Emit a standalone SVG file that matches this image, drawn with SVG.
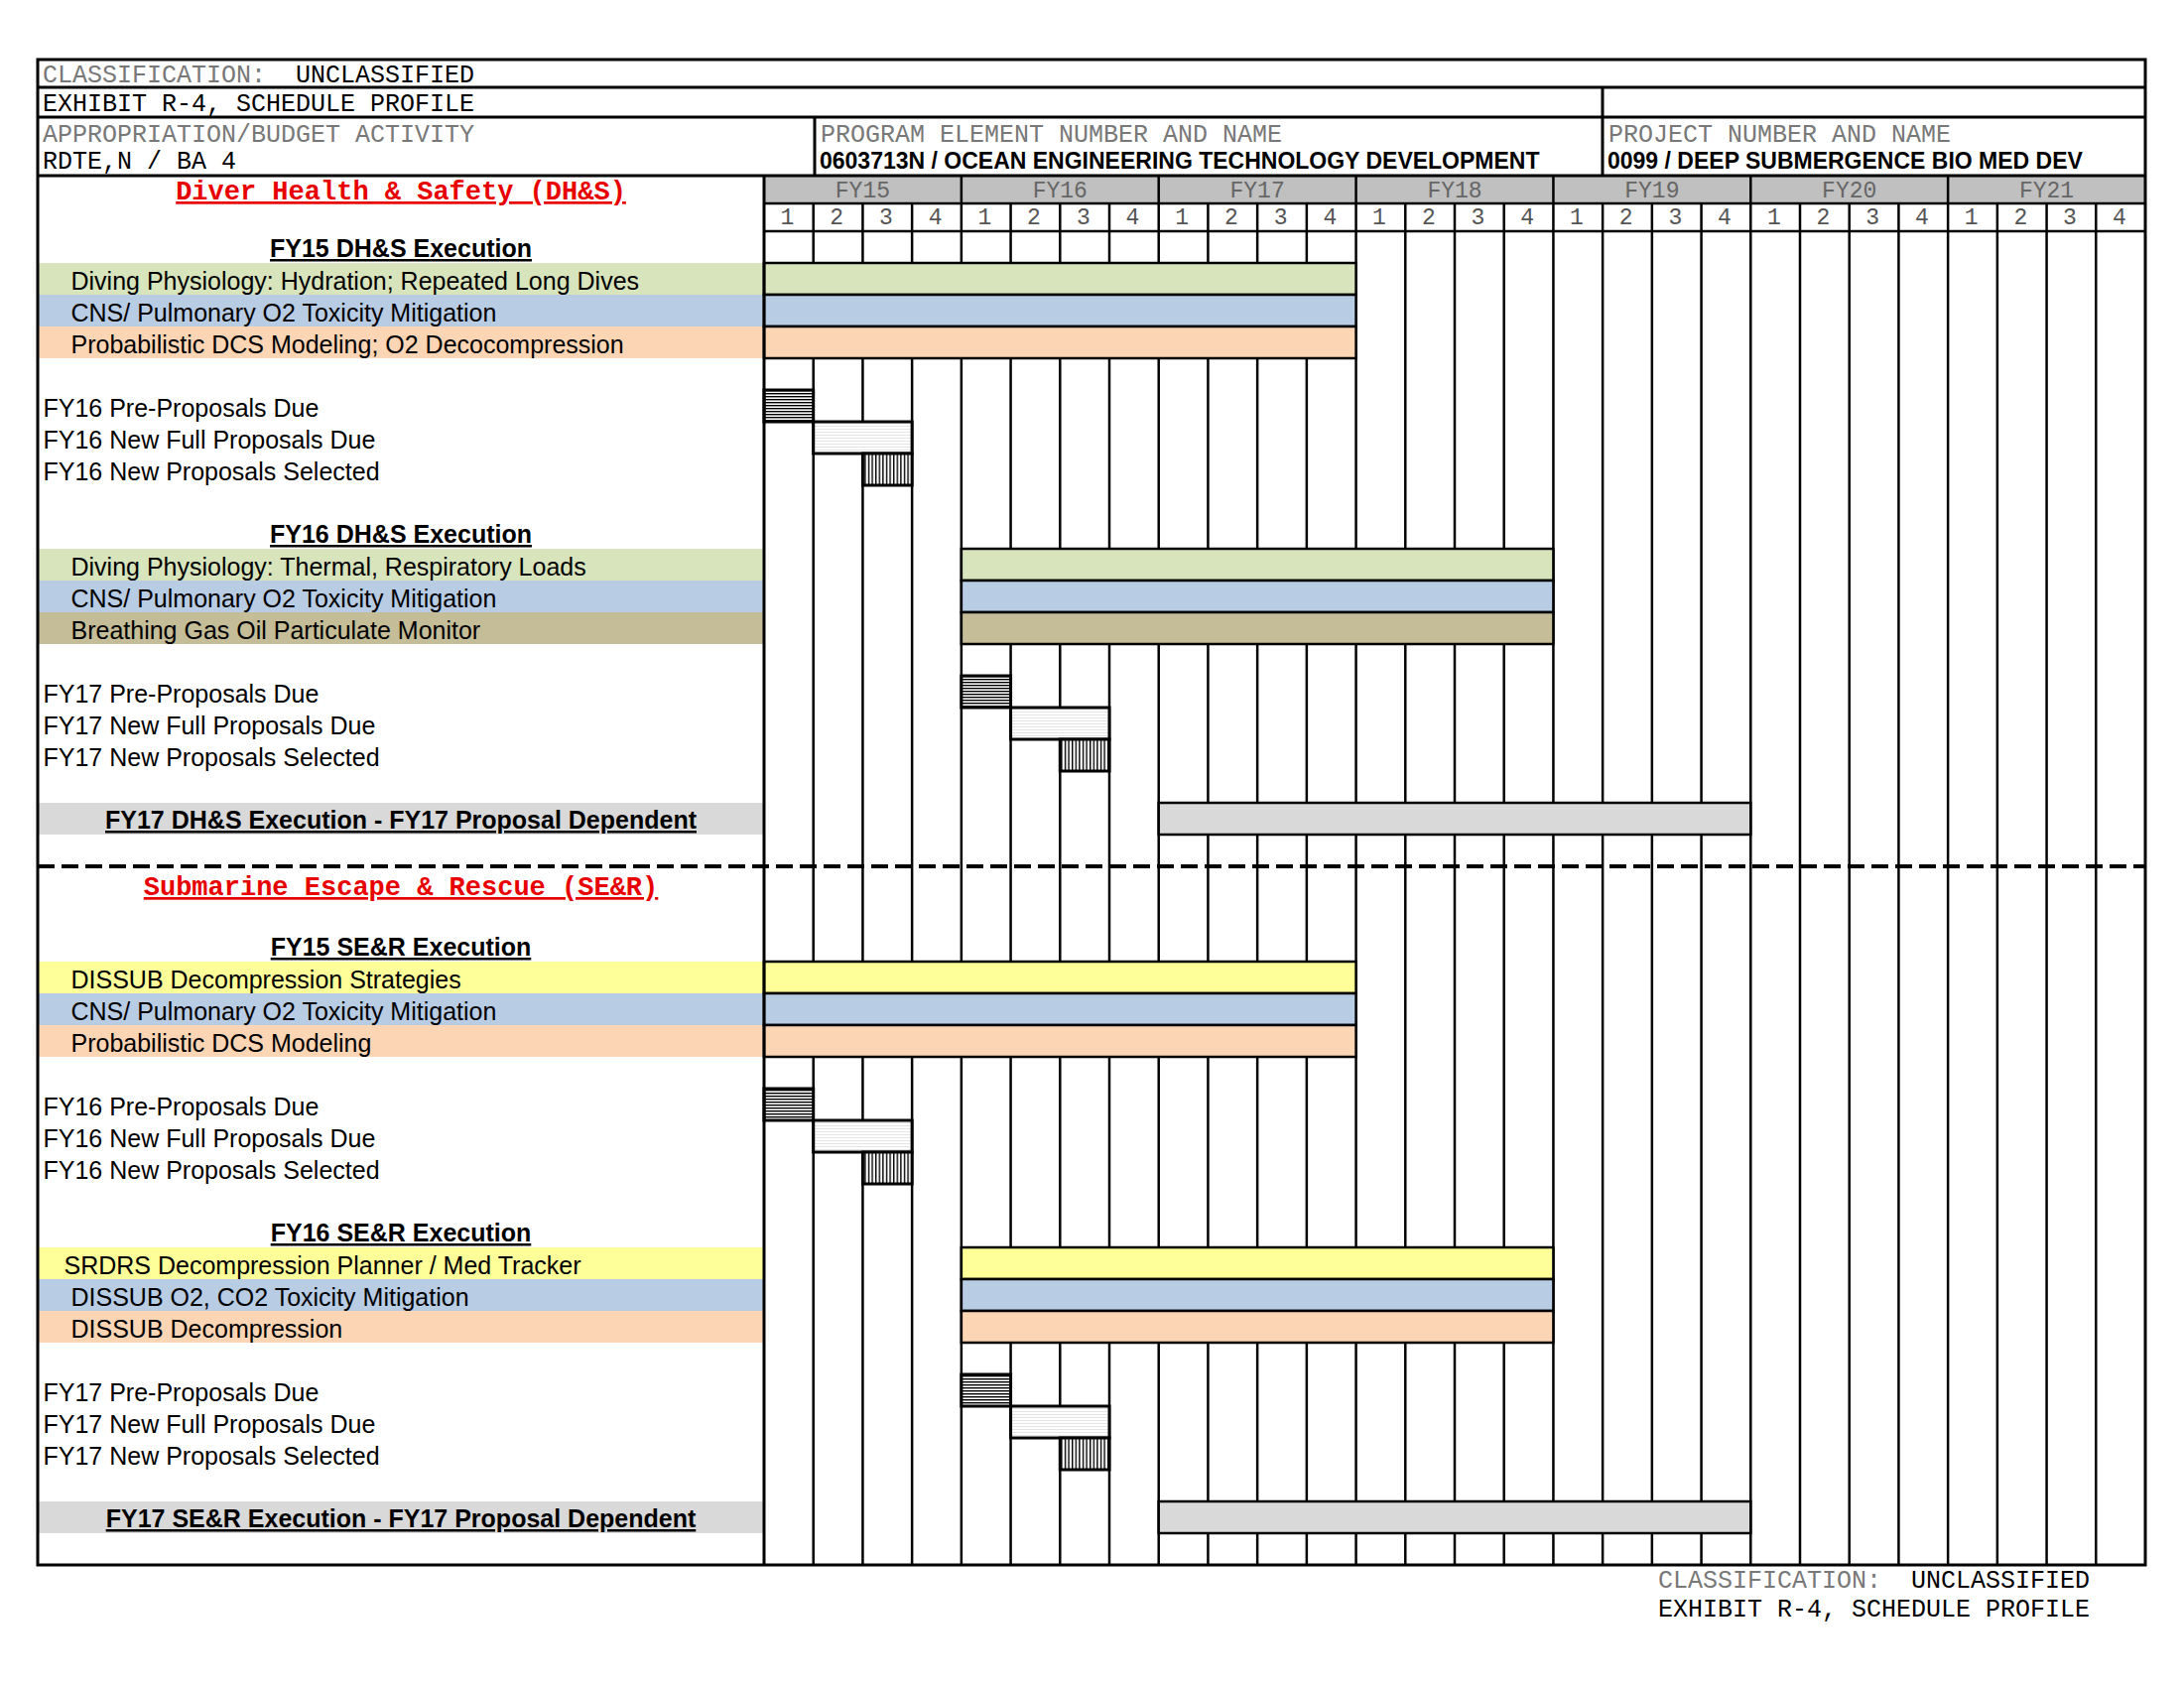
<svg xmlns="http://www.w3.org/2000/svg" width="2201" height="1700" viewBox="0 0 2201 1700">
<defs>
<style>
.mono{font-family:"Liberation Mono","Courier New",monospace;font-size:25px;white-space:pre}
.gry{fill:#787878}
.blk{fill:#000}
.bold{font-family:"Liberation Sans",Arial,sans-serif;font-weight:bold;font-size:23px;fill:#000}
.lbl{font-family:"Liberation Sans",Arial,sans-serif;font-size:25px;fill:#000}
.hdr{font-family:"Liberation Sans",Arial,sans-serif;font-size:25px;font-weight:bold;fill:#000;text-anchor:middle;text-decoration:underline}
.red{font-family:"Liberation Mono","Courier New",monospace;font-size:27px;font-weight:bold;fill:#e80000;text-anchor:middle;text-decoration:underline}
.fy{font-family:"Liberation Mono","Courier New",monospace;font-size:23px;fill:#666;text-anchor:middle}
.q{font-family:"Liberation Mono","Courier New",monospace;font-size:23px;fill:#555;text-anchor:middle}
.bar{stroke:#000;stroke-width:2.5}
.ms{stroke:#000;stroke-width:3}
.g{fill:#d8e4bc}.b{fill:#b8cce4}.o{fill:#fcd5b4}.t{fill:#c4bd97}.s{fill:#d9d9d9}.y{fill:#ffff99}
.grid line{stroke:#000;stroke-width:2.5}
.frame{fill:none;stroke:#000;stroke-width:3}
</style>
<pattern id="hH" patternUnits="userSpaceOnUse" width="10" height="3"><rect width="10" height="3" fill="#fff"/><rect y="0" width="10" height="1.4" fill="#000"/></pattern>
<pattern id="hV" patternUnits="userSpaceOnUse" width="3.6" height="10"><rect width="3.6" height="10" fill="#fff"/><rect x="0" width="1.4" height="10" fill="#000"/></pattern>
<pattern id="hL" patternUnits="userSpaceOnUse" width="10" height="3"><rect width="10" height="3" fill="#fff"/><rect y="0" width="10" height="1" fill="#e4e4e4"/></pattern>
</defs>
<rect width="2201" height="1700" fill="#fff"/>

<!-- left panel colour bands -->
<g id="left-bands">
<rect class="g" x="39" y="265" width="731" height="32"/>
<rect class="b" x="39" y="297" width="731" height="32"/>
<rect class="o" x="39" y="329" width="731" height="32"/>
<rect class="g" x="39" y="553" width="731" height="32"/>
<rect class="b" x="39" y="585" width="731" height="32"/>
<rect class="t" x="39" y="617" width="731" height="32"/>
<rect class="s" x="39" y="809" width="731" height="32"/>
<rect class="y" x="39" y="969" width="731" height="32"/>
<rect class="b" x="39" y="1001" width="731" height="32"/>
<rect class="o" x="39" y="1033" width="731" height="32"/>
<rect class="y" x="39" y="1257" width="731" height="32"/>
<rect class="b" x="39" y="1289" width="731" height="32"/>
<rect class="o" x="39" y="1321" width="731" height="32"/>
<rect class="s" x="39" y="1513" width="731" height="32"/>
</g>

<!-- FY header background -->
<rect x="770" y="177" width="1392" height="28" fill="#c0c0c0"/>

<!-- grid lines (connectors group) -->
<g id="connectors" class="grid">
<line x1="819.71" y1="205" x2="819.71" y2="1577"/>
<line x1="869.43" y1="205" x2="869.43" y2="1577"/>
<line x1="919.14" y1="205" x2="919.14" y2="1577"/>
<line x1="968.86" y1="177" x2="968.86" y2="1577"/>
<line x1="1018.57" y1="205" x2="1018.57" y2="1577"/>
<line x1="1068.29" y1="205" x2="1068.29" y2="1577"/>
<line x1="1118" y1="205" x2="1118" y2="1577"/>
<line x1="1167.71" y1="177" x2="1167.71" y2="1577"/>
<line x1="1217.43" y1="205" x2="1217.43" y2="1577"/>
<line x1="1267.14" y1="205" x2="1267.14" y2="1577"/>
<line x1="1316.86" y1="205" x2="1316.86" y2="1577"/>
<line x1="1366.57" y1="177" x2="1366.57" y2="1577"/>
<line x1="1416.29" y1="205" x2="1416.29" y2="1577"/>
<line x1="1466" y1="205" x2="1466" y2="1577"/>
<line x1="1515.71" y1="205" x2="1515.71" y2="1577"/>
<line x1="1565.43" y1="177" x2="1565.43" y2="1577"/>
<line x1="1615.14" y1="205" x2="1615.14" y2="1577"/>
<line x1="1664.86" y1="205" x2="1664.86" y2="1577"/>
<line x1="1714.57" y1="205" x2="1714.57" y2="1577"/>
<line x1="1764.29" y1="177" x2="1764.29" y2="1577"/>
<line x1="1814" y1="205" x2="1814" y2="1577"/>
<line x1="1863.71" y1="205" x2="1863.71" y2="1577"/>
<line x1="1913.43" y1="205" x2="1913.43" y2="1577"/>
<line x1="1963.14" y1="177" x2="1963.14" y2="1577"/>
<line x1="2012.86" y1="205" x2="2012.86" y2="1577"/>
<line x1="2062.57" y1="205" x2="2062.57" y2="1577"/>
<line x1="2112.29" y1="205" x2="2112.29" y2="1577"/>
<line x1="770" y1="205" x2="2162" y2="205"/>
<line x1="770" y1="233" x2="2162" y2="233"/>
</g>

<!-- DH&S bars -->
<g id="bar-dhs-fy15">
<rect class="bar g" x="770" y="265" width="596.57" height="32"/>
<rect class="bar b" x="770" y="297" width="596.57" height="32"/>
<rect class="bar o" x="770" y="329" width="596.57" height="32"/>
</g>
<g id="ms-dhs-fy16">
<rect class="ms" fill="url(#hH)" x="770" y="393" width="49.71" height="32"/>
<rect class="ms" fill="url(#hL)" x="819.71" y="425" width="99.43" height="32"/>
<rect class="ms" fill="url(#hV)" x="869.43" y="457" width="49.71" height="32"/>
</g>
<g id="bar-dhs-fy16">
<rect class="bar g" x="968.86" y="553" width="596.57" height="32"/>
<rect class="bar b" x="968.86" y="585" width="596.57" height="32"/>
<rect class="bar t" x="968.86" y="617" width="596.57" height="32"/>
</g>
<g id="ms-dhs-fy17">
<rect class="ms" fill="url(#hH)" x="968.86" y="681" width="49.71" height="32"/>
<rect class="ms" fill="url(#hL)" x="1018.57" y="713" width="99.43" height="32"/>
<rect class="ms" fill="url(#hV)" x="1068.29" y="745" width="49.71" height="32"/>
</g>
<g id="bar-dhs-fy17">
<rect class="bar s" x="1167.71" y="809" width="596.57" height="32"/>
</g>

<!-- SE&R bars -->
<g id="bar-ser-fy15">
<rect class="bar y" x="770" y="969" width="596.57" height="32"/>
<rect class="bar b" x="770" y="1001" width="596.57" height="32"/>
<rect class="bar o" x="770" y="1033" width="596.57" height="32"/>
</g>
<g id="ms-ser-fy16">
<rect class="ms" fill="url(#hH)" x="770" y="1097" width="49.71" height="32"/>
<rect class="ms" fill="url(#hL)" x="819.71" y="1129" width="99.43" height="32"/>
<rect class="ms" fill="url(#hV)" x="869.43" y="1161" width="49.71" height="32"/>
</g>
<g id="bar-ser-fy16">
<rect class="bar y" x="968.86" y="1257" width="596.57" height="32"/>
<rect class="bar b" x="968.86" y="1289" width="596.57" height="32"/>
<rect class="bar o" x="968.86" y="1321" width="596.57" height="32"/>
</g>
<g id="ms-ser-fy17">
<rect class="ms" fill="url(#hH)" x="968.86" y="1385" width="49.71" height="32"/>
<rect class="ms" fill="url(#hL)" x="1018.57" y="1417" width="99.43" height="32"/>
<rect class="ms" fill="url(#hV)" x="1068.29" y="1449" width="49.71" height="32"/>
</g>
<g id="bar-ser-fy17">
<rect class="bar s" x="1167.71" y="1513" width="596.57" height="32"/>
</g>

<!-- section divider -->
<line id="section-divider" x1="38" y1="873" x2="2162" y2="873" stroke="#000" stroke-width="4" stroke-dasharray="17 7"/>

<!-- frame -->
<g id="frame">
<rect class="frame" x="38" y="60" width="2124" height="1517"/>
<line x1="38" y1="88" x2="2162" y2="88" stroke="#000" stroke-width="3"/>
<line x1="38" y1="118" x2="2162" y2="118" stroke="#000" stroke-width="3"/>
<line x1="38" y1="177" x2="2162" y2="177" stroke="#000" stroke-width="3"/>
<line x1="821" y1="118" x2="821" y2="177" stroke="#000" stroke-width="3"/>
<line x1="1615" y1="88" x2="1615" y2="177" stroke="#000" stroke-width="3"/>
<line x1="770" y1="177" x2="770" y2="1577" stroke="#000" stroke-width="3"/>
</g>

<!-- header texts -->
<g id="header">
<text class="mono" x="43" y="83" xml:space="preserve"><tspan class="gry">CLASSIFICATION:</tspan><tspan class="blk">  UNCLASSIFIED</tspan></text>
<text class="mono blk" x="43" y="112">EXHIBIT R-4, SCHEDULE PROFILE</text>
<text class="mono gry" x="43" y="143">APPROPRIATION/BUDGET ACTIVITY</text>
<text class="mono blk" x="43" y="170">RDTE,N / BA 4</text>
<text class="mono gry" x="827" y="143">PROGRAM ELEMENT NUMBER AND NAME</text>
<text class="bold" x="826" y="170">0603713N / OCEAN ENGINEERING TECHNOLOGY DEVELOPMENT</text>
<text class="mono gry" x="1621" y="143">PROJECT NUMBER AND NAME</text>
<text class="bold" x="1620" y="170">0099 / DEEP SUBMERGENCE BIO MED DEV</text>
</g>

<g id="fy-header">
<text class="fy" x="869.43" y="199">FY15</text>
<text class="fy" x="1068.29" y="199">FY16</text>
<text class="fy" x="1267.14" y="199">FY17</text>
<text class="fy" x="1466" y="199">FY18</text>
<text class="fy" x="1664.86" y="199">FY19</text>
<text class="fy" x="1863.71" y="199">FY20</text>
<text class="fy" x="2062.57" y="199">FY21</text>
</g>
<g id="quarters">
<text class="q" x="793.5" y="226">1</text><text class="q" x="843.2" y="226">2</text><text class="q" x="892.9" y="226">3</text><text class="q" x="942.6" y="226">4</text>
<text class="q" x="992.3" y="226">1</text><text class="q" x="1042" y="226">2</text><text class="q" x="1091.8" y="226">3</text><text class="q" x="1141.5" y="226">4</text>
<text class="q" x="1191.2" y="226">1</text><text class="q" x="1240.9" y="226">2</text><text class="q" x="1290.6" y="226">3</text><text class="q" x="1340.3" y="226">4</text>
<text class="q" x="1390" y="226">1</text><text class="q" x="1439.8" y="226">2</text><text class="q" x="1489.5" y="226">3</text><text class="q" x="1539.2" y="226">4</text>
<text class="q" x="1588.9" y="226">1</text><text class="q" x="1638.6" y="226">2</text><text class="q" x="1688.3" y="226">3</text><text class="q" x="1738" y="226">4</text>
<text class="q" x="1787.8" y="226">1</text><text class="q" x="1837.5" y="226">2</text><text class="q" x="1887.2" y="226">3</text><text class="q" x="1936.9" y="226">4</text>
<text class="q" x="1986.6" y="226">1</text><text class="q" x="2036.3" y="226">2</text><text class="q" x="2086" y="226">3</text><text class="q" x="2135.8" y="226">4</text>
</g>

<!-- DH&S labels -->
<g id="dhs-labels">
<text class="red" x="404" y="201">Diver Health &amp; Safety (DH&amp;S)</text>
<text class="hdr" x="404" y="259">FY15 DH&amp;S Execution</text>
<text class="lbl" x="71.5" y="292">Diving Physiology: Hydration; Repeated Long Dives</text>
<text class="lbl" x="71.5" y="324">CNS/ Pulmonary O2 Toxicity Mitigation</text>
<text class="lbl" x="71.5" y="356">Probabilistic DCS Modeling; O2 Decocompression</text>
<text class="lbl" x="43.5" y="420">FY16 Pre-Proposals Due</text>
<text class="lbl" x="43.5" y="452">FY16 New Full Proposals Due</text>
<text class="lbl" x="43.5" y="484">FY16 New Proposals Selected</text>
<text class="hdr" x="404" y="547">FY16 DH&amp;S Execution</text>
<text class="lbl" x="71.5" y="580">Diving Physiology: Thermal, Respiratory Loads</text>
<text class="lbl" x="71.5" y="612">CNS/ Pulmonary O2 Toxicity Mitigation</text>
<text class="lbl" x="71.5" y="644">Breathing Gas Oil Particulate Monitor</text>
<text class="lbl" x="43.5" y="708">FY17 Pre-Proposals Due</text>
<text class="lbl" x="43.5" y="740">FY17 New Full Proposals Due</text>
<text class="lbl" x="43.5" y="772">FY17 New Proposals Selected</text>
<text class="hdr" x="404" y="835">FY17 DH&amp;S Execution - FY17 Proposal Dependent</text>
</g>

<!-- SE&R labels -->
<g id="ser-labels">
<text class="red" x="404" y="902">Submarine Escape &amp; Rescue (SE&amp;R)</text>
<text class="hdr" x="404" y="963">FY15 SE&amp;R Execution</text>
<text class="lbl" x="71.5" y="996">DISSUB Decompression Strategies</text>
<text class="lbl" x="71.5" y="1028">CNS/ Pulmonary O2 Toxicity Mitigation</text>
<text class="lbl" x="71.5" y="1060">Probabilistic DCS Modeling</text>
<text class="lbl" x="43.5" y="1124">FY16 Pre-Proposals Due</text>
<text class="lbl" x="43.5" y="1156">FY16 New Full Proposals Due</text>
<text class="lbl" x="43.5" y="1188">FY16 New Proposals Selected</text>
<text class="hdr" x="404" y="1251">FY16 SE&amp;R Execution</text>
<text class="lbl" x="64.5" y="1284">SRDRS Decompression Planner / Med Tracker</text>
<text class="lbl" x="71.5" y="1316">DISSUB O2, CO2 Toxicity Mitigation</text>
<text class="lbl" x="71.5" y="1348">DISSUB Decompression</text>
<text class="lbl" x="43.5" y="1412">FY17 Pre-Proposals Due</text>
<text class="lbl" x="43.5" y="1444">FY17 New Full Proposals Due</text>
<text class="lbl" x="43.5" y="1476">FY17 New Proposals Selected</text>
<text class="hdr" x="404" y="1539">FY17 SE&amp;R Execution - FY17 Proposal Dependent</text>
</g>

<!-- footer -->
<g id="footer">
<text class="mono" x="1671" y="1600" xml:space="preserve"><tspan class="gry">CLASSIFICATION:</tspan><tspan class="blk">  UNCLASSIFIED</tspan></text>
<text class="mono blk" x="1671" y="1629">EXHIBIT R-4, SCHEDULE PROFILE</text>
</g>
</svg>
